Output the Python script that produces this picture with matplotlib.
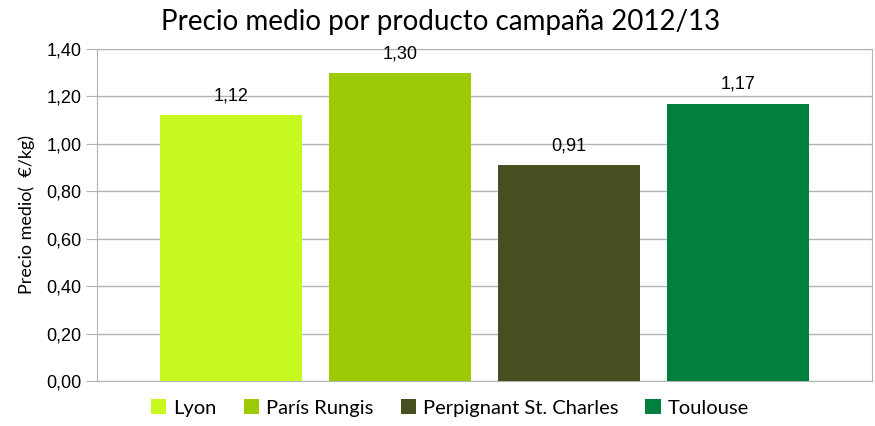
import matplotlib
matplotlib.use('Agg')
import matplotlib.pyplot as plt
import numpy as np

mercados = ['Lyon', 'París Rungis', 'Perpignant St. Charles', 'Toulouse']
precios = [1.12, 1.30, 0.91, 1.17]
colores = ['#c5f91f', '#9ccb06', '#454f20', '#007f3f']
yticks = [0.0, 0.2, 0.4, 0.6, 0.8, 1.0, 1.2, 1.4]

plt.rcParams['font.family'] = ['Liberation Sans', 'DejaVu Sans']

fig = plt.figure(figsize=(8.75, 4.26), dpi=100)
ax = fig.add_axes([97 / 875, 1 - 381 / 426, 775 / 875, 332 / 426])

x = np.arange(len(mercados))
bars = ax.bar(x, precios, width=0.84, color=colores, label=mercados, zorder=3)
for b, v in zip(bars, precios):
    ax.text(b.get_x() + b.get_width() / 2, v + 0.045, '{:.2f}'.format(v).replace('.', ','),
            ha='center', va='bottom', fontsize=13)

ax.set_xlim(-0.793, 3.793)
ax.set_ylim(0, 1.4)
ax.set_yticks(yticks)
ax.set_yticklabels(['{:.2f}'.format(t).replace('.', ',') for t in yticks], fontsize=13)
ax.set_xticks([])
ax.tick_params(axis='y', length=8, color='#b3b3b3', pad=3)
ax.grid(axis='y', color='#b3b3b3', linewidth=1, zorder=0)
for s in ax.spines.values():
    s.set_color('#b3b3b3')

ax.set_ylabel('Precio medio(  €/kg)', fontsize=13, family=['Lato', 'DejaVu Sans'], labelpad=8)
fig.text(441 / 875, 1 - 22 / 426, 'Precio medio por producto campaña 2012/13',
         fontsize=20, family=['Lato', 'DejaVu Sans'], ha='center', va='center')

ax.legend(loc='center', bbox_to_anchor=((450 - 97) / 775, (381 - 408) / 332), ncol=4,
          frameon=False, handlelength=0.75, handleheight=0.75, handletextpad=0.35,
          columnspacing=1.35, prop={'family': ['Lato', 'DejaVu Sans'], 'size': 14.5})

fig.savefig('out.png', dpi=100)
